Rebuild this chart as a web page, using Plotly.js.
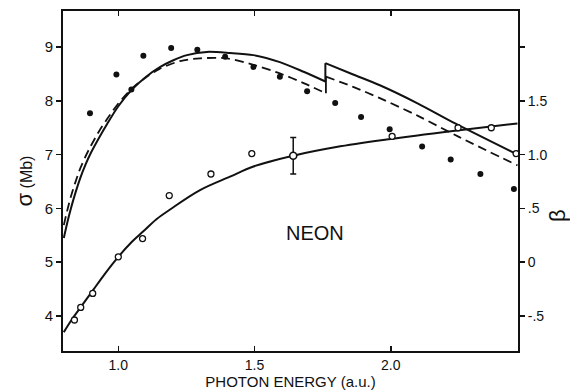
<!DOCTYPE html>
<html>
<head>
<meta charset="utf-8">
<script src="https://cdn.plot.ly/plotly-3.0.1.min.js"></script>
<style>html,body{margin:0;padding:0;background:#fff;}</style>
</head>
<body>
<div id="chart" style="width:570px;height:392px;"></div>
<script>
// Theory: cross section sigma (Mb), solid curve, below and above the threshold jump
const sigmaSolidLowX = [0.800,0.812,0.826,0.842,0.860,0.880,0.900,0.930,0.960,1.000,1.050,1.100,1.154,1.200,1.252,1.325,1.410,1.496,1.593,1.680,1.760];
const sigmaSolidLowY = [5.45,5.72,6.00,6.28,6.56,6.82,7.04,7.32,7.58,7.90,8.21,8.44,8.63,8.75,8.85,8.91,8.89,8.85,8.72,8.54,8.36];
const sigmaSolidHighX = [1.760,1.862,1.960,2.100,2.240,2.465];
const sigmaSolidHighY = [8.70,8.49,8.29,7.95,7.57,7.00];
// Theory: cross section sigma (Mb), dashed curve, below and above the jump
const sigmaDashLowX = [0.800,0.812,0.826,0.842,0.860,0.880,0.900,0.930,0.960,1.000,1.050,1.100,1.150,1.227,1.300,1.398,1.496,1.593,1.680,1.762];
const sigmaDashLowY = [5.69,5.95,6.22,6.48,6.74,6.97,7.17,7.44,7.67,7.95,8.23,8.43,8.59,8.74,8.79,8.79,8.67,8.51,8.33,8.14];
const sigmaDashHighX = [1.762,1.862,1.960,2.100,2.250,2.465];
const sigmaDashHighY = [8.45,8.26,8.05,7.72,7.33,6.80];
// Experiment: sigma (filled dots)
const sigmaExpX = [0.896,0.993,1.048,1.092,1.194,1.290,1.392,1.496,1.593,1.693,1.796,1.891,1.996,2.115,2.220,2.329,2.452];
const sigmaExpY = [7.77,8.49,8.21,8.84,8.98,8.95,8.82,8.63,8.45,8.18,7.96,7.70,7.47,7.15,6.91,6.64,6.36];
// Theory: asymmetry parameter beta (solid curve, right axis)
const betaTheoryX = [0.800,0.830,0.870,0.910,0.950,1.000,1.050,1.093,1.140,1.190,1.300,1.410,1.496,1.642,1.800,1.984,2.228,2.465];
const betaTheoryY = [-0.65,-0.53,-0.39,-0.25,-0.11,0.05,0.19,0.29,0.40,0.49,0.67,0.795,0.89,0.99,1.07,1.14,1.22,1.29];
// Experiment: beta (open circles)
const betaExpX = [0.839,0.862,0.906,1.000,1.089,1.187,1.340,1.490,2.005,2.247,2.369,2.460];
const betaExpY = [-0.537,-0.42,-0.29,0.05,0.22,0.62,0.82,1.01,1.17,1.25,1.25,1.01];
// Experiment: beta point with error bar
const betaErrX = [1.642];
const betaErrY = [0.99];
const betaErrVal = [0.17];
// Tick labels
const xTickVals = [1.0,1.5,2.0];
const xTickText = ['1.0','1.5','2.0'];
const ySigmaTicks = [4,5,6,7,8,9];
const yBetaTickVals = [-0.5,0,0.5,1.0,1.5,2.0];
const yBetaTickText = ['-.5','0','.5','1.0','1.5',''];

const ink = '#111';
const fam = 'Liberation Sans, Arial, sans-serif';

const solidLine = {color:ink, width:2, shape:'spline', smoothing:0.8};
const dashLine = {color:ink, width:1.8, dash:'9px,5px', shape:'spline', smoothing:0.8};
const last = a => a[a.length-1];

const traces = [
  {x: sigmaSolidLowX, y: sigmaSolidLowY, type:'scatter', mode:'lines', line:solidLine},
  {x: [last(sigmaSolidLowX), sigmaSolidHighX[0]], y: [last(sigmaSolidLowY), sigmaSolidHighY[0]], type:'scatter', mode:'lines', line:{color:ink, width:2}},
  {x: sigmaSolidHighX, y: sigmaSolidHighY, type:'scatter', mode:'lines', line:solidLine},
  {x: sigmaDashLowX, y: sigmaDashLowY, type:'scatter', mode:'lines', line:dashLine},
  {x: [last(sigmaDashLowX), sigmaDashHighX[0]], y: [last(sigmaDashLowY), sigmaDashHighY[0]], type:'scatter', mode:'lines', line:{color:ink, width:1.8}},
  {x: sigmaDashHighX, y: sigmaDashHighY, type:'scatter', mode:'lines', line:dashLine},
  {x: sigmaExpX, y: sigmaExpY, type:'scatter', mode:'markers', marker:{color:ink, size:6, symbol:'circle'}},
  {x: betaTheoryX, y: betaTheoryY, yaxis:'y2', type:'scatter', mode:'lines', line:{color:ink, width:2, shape:'spline', smoothing:1}},
  {x: betaExpX, y: betaExpY, yaxis:'y2', type:'scatter', mode:'markers', marker:{color:'#fff', size:6, symbol:'circle', line:{color:ink, width:1.3}}},
  {x: betaErrX, y: betaErrY, yaxis:'y2', type:'scatter', mode:'markers',
   marker:{color:'#fff', size:7, symbol:'circle', line:{color:ink, width:1.6}},
   error_y:{type:'data', array: betaErrVal, visible:true, color:ink, thickness:1.5, width:3}}
];

const layout = {
  width:570, height:392,
  margin:{l:63, r:52, t:11, b:41},
  paper_bgcolor:'#fff', plot_bgcolor:'#fff',
  showlegend:false,
  font:{family:fam, color:ink, size:14},
  xaxis:{
    range:[0.797,2.467], tickvals:xTickVals, ticktext:xTickText,
    ticks:'inside', ticklen:5, tickwidth:1.5, tickcolor:ink,
    showline:true, linewidth:2, linecolor:ink, mirror:'ticks',
    showgrid:false, zeroline:false,
    tickfont:{family:fam, size:14, color:ink},
    title:{text:'PHOTON ENERGY (a.u.)', font:{family:fam, size:15, color:ink}, standoff:4}
  },
  yaxis:{
    range:[3.35,9.67], tickvals:ySigmaTicks,
    ticks:'outside', ticklen:5, tickwidth:1.5, tickcolor:ink,
    showline:true, linewidth:2, linecolor:ink,
    showgrid:false, zeroline:false,
    tickfont:{family:fam, size:15, color:ink},
    title:{text:'<span style="font-size:22px">σ</span> (Mb)', font:{family:fam, size:16, color:ink}, standoff:8}
  },
  yaxis2:{
    overlaying:'y', side:'right',
    range:[-0.825,2.335], tickvals:yBetaTickVals, ticktext:yBetaTickText,
    ticks:'outside', ticklen:5, tickwidth:1.5, tickcolor:ink,
    showline:true, linewidth:2, linecolor:ink,
    showgrid:false, zeroline:false,
    tickfont:{family:fam, size:14, color:ink}
  },
  annotations:[
    {text:'NEON', x:1.723, y:5.55, xref:'x', yref:'y', showarrow:false, font:{family:fam, size:20, color:ink}},
    {text:'β', x:1.0857, y:0.40, xref:'paper', yref:'paper', xanchor:'center', yanchor:'middle', showarrow:false, textangle:-90, font:{family:fam, size:22, color:ink}}
  ]
};

Plotly.newPlot('chart', traces, layout, {staticPlot:true, displayModeBar:false});
</script>
</body>
</html>
